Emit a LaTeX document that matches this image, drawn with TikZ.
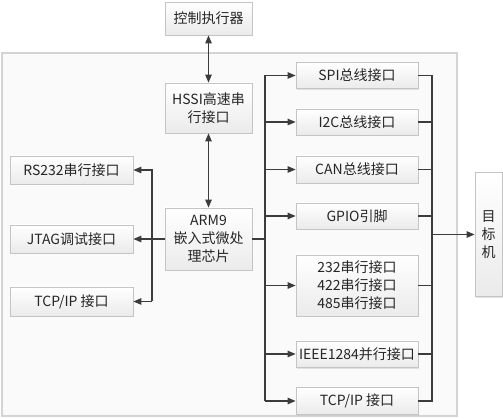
\documentclass[tikz,border=0pt]{standalone}
\usepackage{fontspec}
\setmainfont{Noto Sans CJK SC}
\usetikzlibrary{arrows.meta, shadows}
\definecolor{boxline}{HTML}{C4C4C4}
\definecolor{linegray}{HTML}{3C3C3C}
\definecolor{framegray}{HTML}{D4D4D4}

\begin{document}
\begin{tikzpicture}[x=1pt, y=-1pt,
  blk/.style={draw=boxline, line width=0.8pt, top color=white, bottom color=black!8,
    align=center, inner sep=0pt, font=\fontsize{14}{18}\selectfont, text=black!85,
    drop shadow={shadow xshift=1.2pt, shadow yshift=-1.5pt, fill=black!22}},
  cbox/.style={blk, minimum width=87pt},
  lbox/.style={blk, minimum width=123pt, minimum height=28pt},
  rbox/.style={blk, minimum width=122pt, minimum height=26pt},
  lnk/.style={draw=linegray, line width=1.2pt},
  arr/.style={lnk, -{Triangle[length=8pt,width=6.5pt]}},
  darr/.style={lnk, {Triangle[length=8pt,width=6.5pt]}-{Triangle[length=8pt,width=6.5pt]}}]
\useasboundingbox (0,0) rectangle (503,419);
% board frame
\draw[draw=framegray, fill=black!2, line width=1.6pt] (2,53) rectangle (457,416);
% centre column
\node[cbox, minimum height=33pt] (ctrl) at (208.5,18.5) {控制执行器};
\node[cbox, minimum height=50pt] (hssi) at (208.5,108) {HSSI高速串\\行接口};
\node[cbox, minimum height=62pt] (arm) at (208.5,239) {ARM9\\嵌入式微处\\理芯片};
% left interfaces
\node[lbox] (rs) at (71.5,170) {RS232串行接口};
\node[lbox] (jtag) at (71.5,239) {JTAG调试接口};
\node[lbox, minimum height=29pt] (tcpl) at (71.5,301.5) {TCP/IP 接口};
% right interfaces
\node[rbox] (spi) at (357,75.5) {SPI总线接口};
\node[rbox] (i2c) at (357,122) {I2C总线接口};
\node[rbox, minimum height=27pt] (can) at (357,169.5) {CAN总线接口};
\node[rbox] (gpio) at (357,216) {GPIO引脚};
\node[rbox, minimum height=61pt] (ser) at (357,285.5) {232串行接口\\422串行接口\\485串行接口};
\node[rbox] (ieee) at (357,354) {IEEE1284并行接口};
\node[rbox, minimum height=27pt] (tcpr) at (357,401) {TCP/IP 接口};
% target
\node[blk, minimum width=27pt, minimum height=124pt] (target) at (488.5,234.5) {目\\标\\机};

\coordinate (lbus) at (152,0);
\coordinate (rin) at (265,0);
\coordinate (rout) at (432,0);

\draw[darr] (ctrl) -- (hssi);
\draw[darr] (hssi) -- (arm);
% left bus
\draw[arr] (tcpl.east -| lbus) |- (rs.east);
\draw[arr] (arm.west) -- (jtag.east);
\draw[arr] (tcpl.east -| lbus) -- (tcpl.east);
% right bus in
\draw[arr] (tcpr.west -| rin) |- (spi.west);
\draw[lnk] (arm.east) -- (arm.east -| rin);
\foreach \n in {i2c,can,gpio,ser,ieee,tcpr}
  \draw[arr] (\n.west -| rin) -- (\n.west);
% right bus out
\draw[lnk] (spi.east) -| (tcpr.east -| rout) -- (tcpr.east);
\foreach \n in {i2c,can,gpio,ser,ieee}
  \draw[lnk] (\n.east) -- (\n.east -| rout);
\draw[arr] (target.west -| rout) -- (target.west);
\end{tikzpicture}
\end{document}
